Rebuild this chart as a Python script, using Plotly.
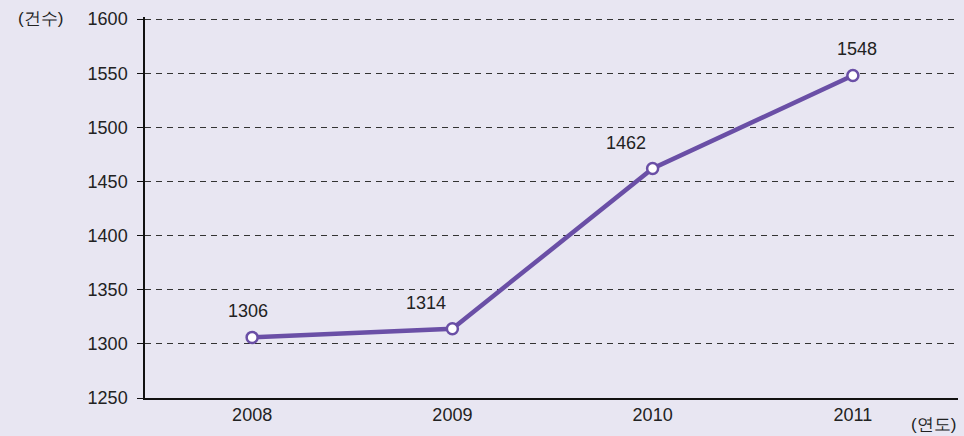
import plotly.graph_objects as go

years = ["2008", "2009", "2010", "2011"]
counts = [1306, 1314, 1462, 1548]
y_ticks = [1250, 1300, 1350, 1400, 1450, 1500, 1550, 1600]

BG = "#e8e6f2"
PURPLE = "#6a4fa6"
FONT = "Liberation Sans, Arial, sans-serif"

xs = list(range(len(years)))

fig = go.Figure()
fig.add_trace(go.Scatter(
    x=xs, y=counts, mode="lines+markers",
    line=dict(color=PURPLE, width=4.5),
    marker=dict(size=11, color="white", line=dict(color=PURPLE, width=2.5)),
    hoverinfo="skip", showlegend=False,
))

label_dx = [-4, -26, -27, 4]
for i, (x, v) in enumerate(zip(xs, counts)):
    fig.add_annotation(x=x, y=v, text=str(v), showarrow=False,
                       xshift=label_dx[i], yshift=26,
                       font=dict(family=FONT, size=18, color="#222"))

fig.add_annotation(xref="paper", yref="paper", x=-0.129, y=1.0, text="(건수)",
                   showarrow=False, xanchor="center", yanchor="middle", yshift=-1,
                   font=dict(family=FONT, size=17, color="#222"))
fig.add_annotation(xref="paper", yref="paper", x=0.97, y=0, text="(연도)",
                   showarrow=False, xanchor="center", yanchor="middle", yshift=-26,
                   font=dict(family=FONT, size=17, color="#222"))

fig.update_layout(
    width=964, height=436,
    margin=dict(l=145, r=6, t=17, b=38),
    paper_bgcolor=BG, plot_bgcolor=BG,
    font=dict(family=FONT, size=18, color="#222"),
    xaxis=dict(range=[-0.535, 3.525], tickvals=xs, ticktext=years,
               showgrid=False, zeroline=False, showline=True,
               linecolor="#111", linewidth=1.5, ticks="",
               tickfont=dict(size=18, color="#222")),
    yaxis=dict(range=[1250, 1602], tickvals=y_ticks,
               showgrid=True, gridcolor="#333", griddash="6px,5px", gridwidth=1.2,
               zeroline=False, showline=True, linecolor="#111", linewidth=1.5,
               ticks="outside", ticklen=6, tickcolor="#111", tickwidth=1,
               ticklabelstandoff=6,
               tickfont=dict(size=18, color="#222")),
)

fig.write_html("out.html", config={"displayModeBar": False},
               post_script="document.body.style.margin='0';document.body.style.overflow='hidden';")
